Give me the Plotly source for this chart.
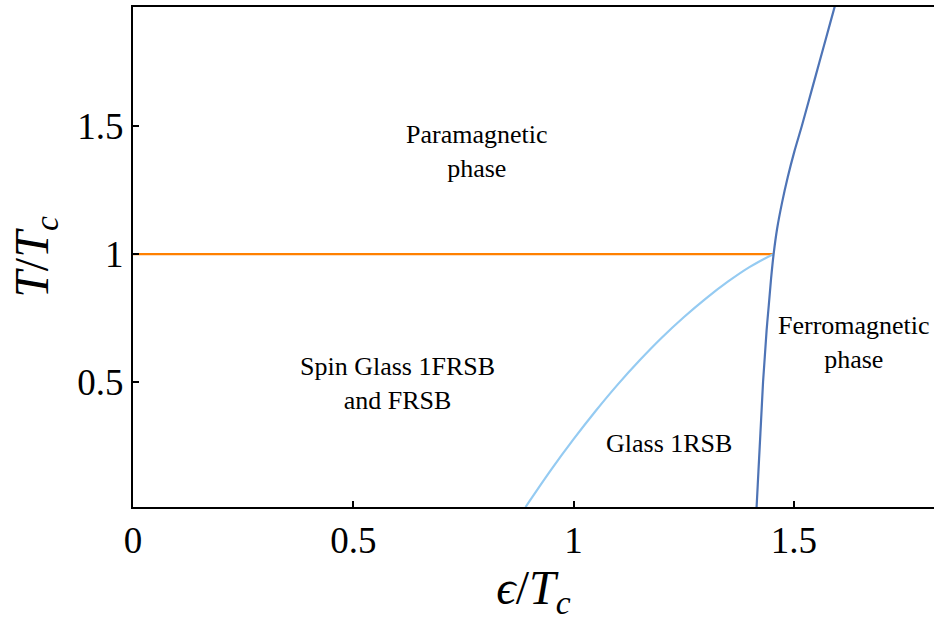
import plotly.graph_objects as go

# Phase boundaries in the (epsilon/Tc, T/Tc) plane
para_sg_eps = [0.0, 1.454]
para_sg_T = [1.0, 1.0]

glass_eps = [0.891, 0.95, 1.00, 1.05, 1.10, 1.15, 1.20, 1.25, 1.30, 1.35, 1.40, 1.454]
glass_T = [0.012, 0.160, 0.277, 0.387, 0.490, 0.585, 0.673, 0.753, 0.826, 0.892, 0.950, 1.000]

ferro_T = [0.0, 0.1, 0.2, 0.3, 0.4, 0.5, 0.6, 0.7, 0.8, 0.9, 1.0,
           1.1, 1.2, 1.3, 1.4, 1.5, 1.6, 1.7, 1.8, 1.9, 2.0]
ferro_eps = [1.415, 1.418, 1.421, 1.424, 1.427, 1.430, 1.434, 1.438, 1.443, 1.448, 1.454,
             1.462, 1.473, 1.486, 1.501, 1.518, 1.534, 1.550, 1.566, 1.582, 1.598]

x_ticks = [0, 0.5, 1, 1.5]
x_tick_text = ["0", "0.5", "1", "1.5"]
y_ticks = [0.5, 1, 1.5]
y_tick_text = ["0.5", "1", "1.5"]

region_labels = ["Paramagnetic<br>phase", "Spin Glass 1FRSB<br>and FRSB", "Glass 1RSB", "Ferromagnetic<br>phase"]
region_eps = [0.78, 0.60, 1.216, 1.636]
region_T = [1.40, 0.495, 0.26, 0.655]

SERIF = "Liberation Serif"

fig = go.Figure()
fig.add_trace(go.Scatter(x=para_sg_eps, y=para_sg_T, mode="lines",
                         line=dict(color="#ff8000", width=2.2), showlegend=False))
fig.add_trace(go.Scatter(x=glass_eps, y=glass_T, mode="lines", line_shape="spline",
                         line=dict(color="#95cbf2", width=2.2), showlegend=False))
fig.add_trace(go.Scatter(x=ferro_eps, y=ferro_T, mode="lines", line_shape="spline",
                         line=dict(color="#4e74b6", width=2.2), showlegend=False))

for txt, ex, ty in zip(region_labels, region_eps, region_T):
    fig.add_annotation(x=ex, y=ty, text=txt, showarrow=False,
                       font=dict(family=SERIF, size=26, color="black"),
                       xanchor="center", yanchor="middle", align="center")

fig.update_layout(
    width=934, height=621,
    margin=dict(l=133, r=0, t=7, b=114),
    paper_bgcolor="white", plot_bgcolor="white",
    font=dict(family=SERIF, color="black"),
    xaxis=dict(range=[0, 1.818], tickvals=x_ticks, ticktext=x_tick_text,
               ticks="inside", ticklen=6, tickwidth=1.5, tickcolor="black",
               showline=True, linecolor="black", linewidth=2, mirror=True,
               showgrid=False, zeroline=False,
               tickfont=dict(family=SERIF, size=37),
               title=dict(text="<i>ϵ</i>/<i>T</i><sub><i>c</i></sub>",
                          font=dict(family=SERIF, size=48), standoff=12)),
    yaxis=dict(range=[0.012, 1.965], tickvals=y_ticks, ticktext=y_tick_text,
               ticks="inside", ticklen=6, tickwidth=1.5, tickcolor="black",
               showline=True, linecolor="black", linewidth=2, mirror=False,
               showgrid=False, zeroline=False,
               tickfont=dict(family=SERIF, size=37),
               title=dict(text="<i>T</i>/<i>T</i><sub><i>c</i></sub>",
                          font=dict(family=SERIF, size=48), standoff=14)),
)

fig.write_html("out.html")
